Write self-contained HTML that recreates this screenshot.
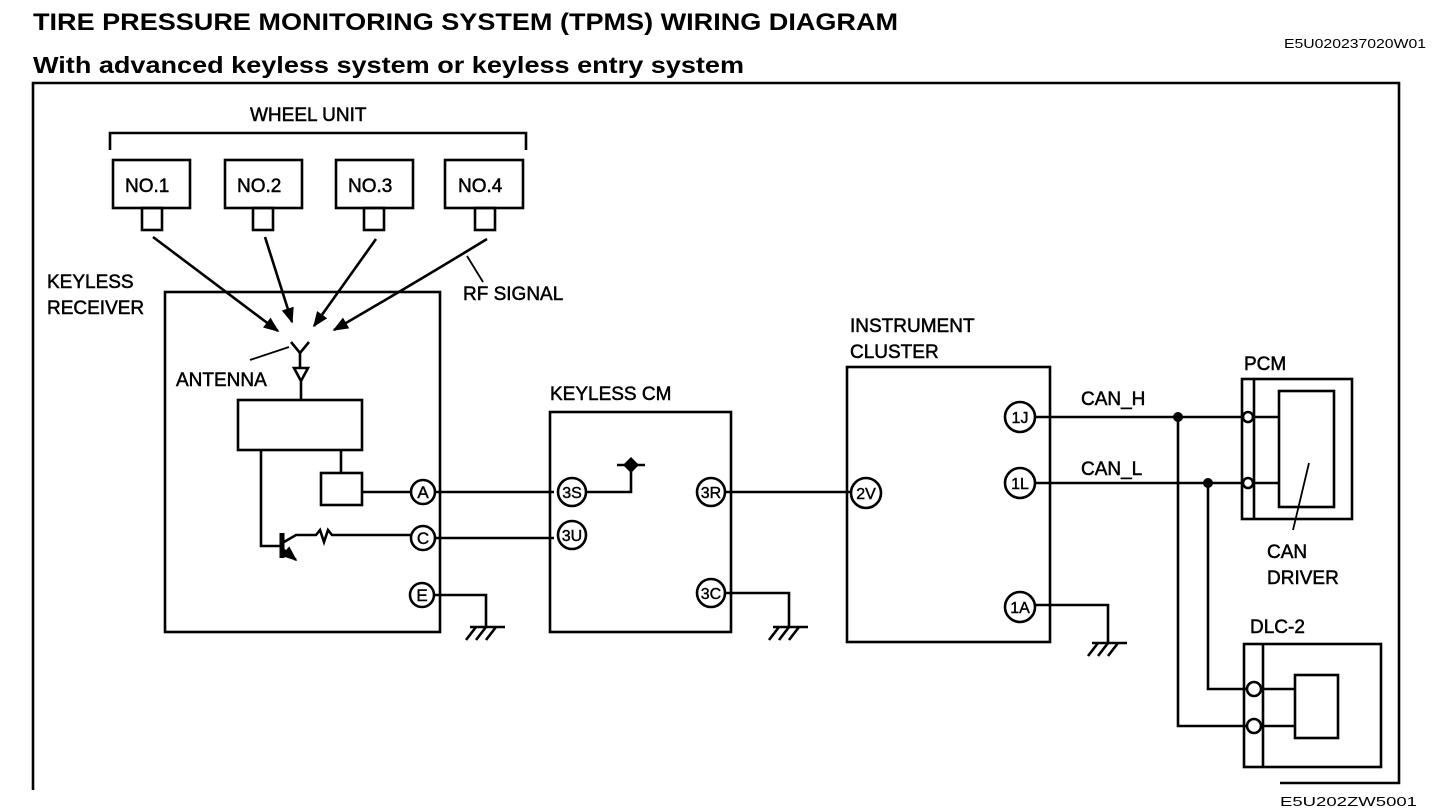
<!DOCTYPE html>
<html><head><meta charset="utf-8"><style>
html,body{margin:0;padding:0;background:#fff;}
svg{display:block;font-family:"Liberation Sans",Arial,sans-serif;}
</style></head><body>
<svg width="1456" height="810" viewBox="0 0 1456 810" xmlns="http://www.w3.org/2000/svg">
<defs>
<marker id="ah" viewBox="0 0 10 10" refX="9" refY="5" markerWidth="6" markerHeight="6" orient="auto" markerUnits="strokeWidth"><path d="M0,1 L10,5 L0,9 Z" fill="#000"/></marker>
</defs>
<g fill="#000">
<text x="33" y="30" font-size="24" font-weight="bold" textLength="865" lengthAdjust="spacingAndGlyphs">TIRE PRESSURE MONITORING SYSTEM (TPMS) WIRING DIAGRAM</text>
<text x="33" y="73" font-size="23" font-weight="bold" textLength="711" lengthAdjust="spacingAndGlyphs">With advanced keyless system or keyless entry system</text>
<text x="1284" y="48" font-size="13" textLength="142" lengthAdjust="spacingAndGlyphs">E5U020237020W01</text>
<text x="1280" y="806" font-size="13" textLength="137" lengthAdjust="spacingAndGlyphs">E5U202ZW5001</text>
</g>
<g fill="none" stroke="#000" stroke-width="2.6">
<polyline points="33,790 33,83 1399,83 1399,783 1280,783"/>
<polyline points="110,150 110,133 526,133 526,150"/>
<rect x="113" y="160" width="77" height="48"/>
<rect x="225" y="160" width="77" height="48"/>
<rect x="336" y="160" width="77" height="48"/>
<rect x="445" y="160" width="78" height="48"/>
<rect x="142" y="208" width="20" height="22"/>
<rect x="253" y="208" width="20" height="22"/>
<rect x="364" y="208" width="20" height="22"/>
<rect x="475" y="208" width="20" height="22"/>
</g>
<g stroke="#000" stroke-width="2.6" fill="none" marker-end="url(#ah)">
<line x1="153" y1="237" x2="278" y2="331"/>
<line x1="265" y1="237" x2="292" y2="322"/>
<line x1="376" y1="239" x2="314" y2="326"/>
<path d="M487,239 Q420,280 334,330"/>
</g>
<g stroke="#000" stroke-width="1.8" fill="none">
<line x1="467" y1="256" x2="483" y2="282"/>
<line x1="289" y1="347" x2="250" y2="360"/>
</g>
<g font-size="19" fill="#000" stroke="#000" stroke-width="0.5">
<text x="250" y="121">WHEEL UNIT</text>
<text x="125" y="192">NO.1</text>
<text x="237" y="192">NO.2</text>
<text x="348" y="192">NO.3</text>
<text x="458" y="192">NO.4</text>
<text x="463" y="300">RF SIGNAL</text>
<text x="47" y="288">KEYLESS</text>
<text x="47" y="314">RECEIVER</text>
<text x="176" y="386">ANTENNA</text>
<text x="550" y="400">KEYLESS CM</text>
<text x="850" y="332">INSTRUMENT</text>
<text x="850" y="358">CLUSTER</text>
<text x="1081" y="405">CAN_H</text>
<text x="1081" y="475">CAN_L</text>
<text x="1244" y="370">PCM</text>
<text x="1267" y="558">CAN</text>
<text x="1267" y="584">DRIVER</text>
<text x="1250" y="633">DLC-2</text>
</g>
<g fill="none" stroke="#000" stroke-width="2.6">
<rect x="165" y="292" width="275" height="340"/>
<polyline points="291,342 300,353 309,342"/>
<line x1="300" y1="353" x2="300" y2="368"/>
<polygon points="294,368 308,368 301,381"/>
<line x1="301" y1="381" x2="301" y2="400"/>
<rect x="238" y="400" width="124" height="50"/>
<line x1="341" y1="450" x2="341" y2="473"/>
<rect x="321" y="473" width="41" height="32"/>
<line x1="362" y1="492" x2="411" y2="492"/>
<polyline points="261,450 261,546 280,546"/>
<line x1="282" y1="533" x2="282" y2="558" stroke-width="5"/>
<polyline points="284,542 296,535 316,535 320,530 324,542 328,530 332,535 411,535"/>
<line x1="284" y1="550" x2="296" y2="560" marker-end="url(#ah)"/>
<circle cx="423" cy="492" r="12"/>
<circle cx="423" cy="538" r="12"/>
<circle cx="422" cy="595" r="12"/>
<line x1="435" y1="492" x2="554" y2="492"/>
<line x1="435" y1="538" x2="554" y2="538"/>
<polyline points="434,595 486,595 486,627"/>
<rect x="550" y="412" width="181" height="220"/>
<circle cx="572" cy="492" r="14"/>
<circle cx="572" cy="535" r="14"/>
<circle cx="711" cy="492" r="14"/>
<circle cx="711" cy="593" r="14"/>
<polyline points="586,492 631,492 631,467"/>
<line x1="617" y1="465" x2="645" y2="465"/>
<line x1="725" y1="492" x2="851" y2="492"/>
<polyline points="725,593 789,593 789,627"/>
<rect x="847" y="367" width="203" height="275"/>
<circle cx="866" cy="493" r="15"/>
<circle cx="1020" cy="417" r="15"/>
<circle cx="1020" cy="483" r="15"/>
<circle cx="1020" cy="607" r="15"/>
<line x1="1035" y1="417" x2="1243" y2="417"/>
<line x1="1035" y1="483" x2="1243" y2="483"/>
<polyline points="1035,605 1108,605 1108,643"/>
<rect x="1242" y="379" width="110" height="140"/>
<line x1="1254" y1="379" x2="1254" y2="519"/>
<rect x="1279" y="391" width="55" height="116"/>
<line x1="1254" y1="417" x2="1279" y2="417"/>
<line x1="1254" y1="483" x2="1279" y2="483"/>
<circle cx="1248" cy="417" r="5" fill="#fff"/>
<circle cx="1248" cy="483" r="5" fill="#fff"/>
<line x1="1309" y1="463" x2="1293" y2="530" stroke-width="1.8"/>
<polyline points="1178,417 1178,726 1248,726"/>
<polyline points="1208,483 1208,689 1248,689"/>
<rect x="1244" y="644" width="137" height="123"/>
<line x1="1263" y1="644" x2="1263" y2="767"/>
<rect x="1295" y="675" width="43" height="63"/>
<line x1="1263" y1="689" x2="1295" y2="689"/>
<line x1="1263" y1="726" x2="1295" y2="726"/>
<circle cx="1254" cy="689" r="7" fill="#fff"/>
<circle cx="1254" cy="726" r="7" fill="#fff"/>
</g>
<g fill="#000">
<circle cx="1178" cy="417" r="5"/>
<circle cx="1208" cy="483" r="5"/>
<path d="M631,457 L639,465 L631,473 L623,465 Z"/>
</g>
<g stroke="#000" stroke-width="2.6" fill="none">
<line x1="470" y1="627" x2="505" y2="627"/><line x1="476" y1="627" x2="466" y2="640"/><line x1="486" y1="627" x2="476" y2="640"/><line x1="496" y1="627" x2="486" y2="640"/>
<line x1="773" y1="627" x2="808" y2="627"/><line x1="779" y1="627" x2="769" y2="640"/><line x1="789" y1="627" x2="779" y2="640"/><line x1="799" y1="627" x2="789" y2="640"/>
<line x1="1092" y1="643" x2="1127" y2="643"/><line x1="1098" y1="643" x2="1088" y2="656"/><line x1="1108" y1="643" x2="1098" y2="656"/><line x1="1118" y1="643" x2="1108" y2="656"/>
</g>
<g font-size="16" fill="#000" text-anchor="middle" stroke="#000" stroke-width="0.4">
<text x="423" y="498" font-size="17">A</text>
<text x="423" y="544" font-size="17">C</text>
<text x="422" y="601" font-size="17">E</text>
<text x="572" y="498">3S</text>
<text x="572" y="541">3U</text>
<text x="711" y="498">3R</text>
<text x="711" y="599">3C</text>
<text x="866" y="499">2V</text>
<text x="1020" y="423">1J</text>
<text x="1020" y="489">1L</text>
<text x="1020" y="613">1A</text>
</g>
</svg>
</body></html>
